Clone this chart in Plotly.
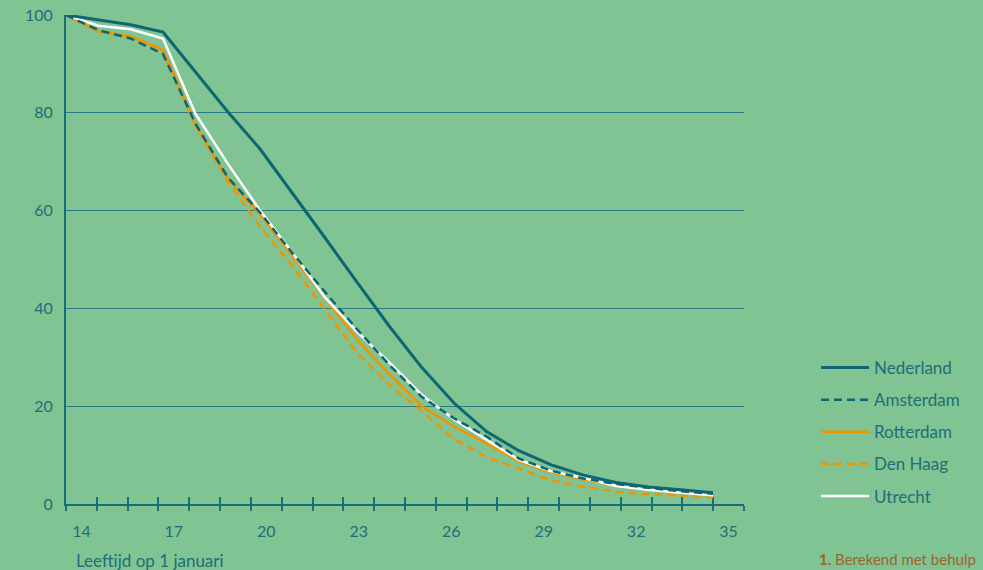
import plotly.graph_objects as go

# Data: percentage still living with parents, ages 14..34
ages = list(range(14, 35))
nederland = [100, 99.0, 98.0, 96.5, 88.3, 80.2, 72.6, 63.6, 54.5, 45.3, 36.3, 27.9,
             20.6, 14.8, 10.9, 8.0, 5.9, 4.4, 3.5, 2.9, 2.3]
amsterdam = [100, 96.9, 95.2, 92.0, 77.8, 66.8, 59.6, 51.3, 43.4, 35.7, 28.4, 21.9,
             17.5, 13.8, 9.3, 6.8, 5.2, 4.1, 3.3, 2.6, 2.1]
rotterdam = [100, 96.6, 95.6, 92.8, 77.6, 66.5, 59.2, 50.8, 42.2, 33.6, 26.5, 20.0,
             15.8, 12.4, 8.7, 6.5, 5.0, 3.8, 3.0, 2.4, 1.9]
denhaag = [100, 96.8, 95.6, 93.0, 77.4, 66.0, 56.6, 48.7, 39.8, 30.9, 24.3, 19.0,
           13.3, 9.6, 7.2, 4.8, 3.5, 2.5, 2.0, 1.7, 1.4]
utrecht = [100, 97.8, 97.1, 95.2, 79.8, 69.6, 60.0, 51.4, 42.3, 35.2, 28.9, 22.3,
           17.3, 13.1, 9.0, 6.7, 5.3, 3.7, 2.9, 2.3, 1.8]

tick_ages = list(range(14, 37))
label_ages = [14, 17, 20, 23, 26, 29, 32, 35]
y_ticks = [0, 20, 40, 60, 80, 100]

TEAL = "#0E6674"
AXIS = "#1B6E78"
GRID = "#2A7B83"
ORANGE = "#F29400"
BG = "#80C494"
TEXT = "#1E6E78"
FONT = "Lato, 'Open Sans', sans-serif"

series = [
    ("Nederland", nederland, TEAL, "solid", 3),
    ("Amsterdam", amsterdam, TEAL, "8px,5px", 2.5),
    ("Rotterdam", rotterdam, ORANGE, "solid", 2.5),
    ("Den Haag", denhaag, ORANGE, "8px,5px", 2.5),
    ("Utrecht", utrecht, "#FFFFFF", "solid", 2.5),
]

fig = go.Figure()
# invisible helpers so that the tick axes are drawn
fig.add_trace(go.Scatter(x=[14, 36], y=[0, 0], xaxis="x", yaxis="y", mode="lines",
                         line=dict(width=0), hoverinfo="skip", showlegend=False))
fig.add_trace(go.Scatter(x=[14, 36], y=[0, 0], xaxis="x3", yaxis="y", mode="lines",
                         line=dict(width=0), hoverinfo="skip", showlegend=False))

order = [2, 3, 4, 1, 0]
for i in order:
    name, vals, col, dash, w = series[i]
    fig.add_trace(go.Scatter(
        x=ages, y=vals, name=name, mode="lines", xaxis="x2", yaxis="y",
        line=dict(color=col, dash=dash, width=w),
        legendgroup=name, legendrank=i + 1,
    ))

fig.update_layout(
    width=983, height=570,
    margin=dict(l=66, r=239, t=15, b=66, autoexpand=False),
    paper_bgcolor=BG, plot_bgcolor="rgba(0,0,0,0)",
    font=dict(family=FONT, color=TEXT, size=15),
    showlegend=True,
    legend=dict(
        x=(816 - 66) / 678, xanchor="left", y=(504 - 350) / 489, yanchor="top",
        bgcolor="rgba(0,0,0,0)", font=dict(size=17, color=TEXT, family=FONT),
        tracegroupgap=7, itemwidth=48, traceorder="grouped",
    ),
    xaxis=dict(
        domain=[0, 1], range=[14, 36], anchor="y", automargin=False,
        tickvals=[a + 0.5 for a in label_ages], ticktext=[str(a) for a in label_ages],
        ticks="", showgrid=False, zeroline=False,
        showline=True, linecolor=AXIS, linewidth=2,
        ticklabelstandoff=12,
        minor=dict(tickvals=tick_ages, ticks="outside", ticklen=5,
                   tickcolor=AXIS, tickwidth=1.5, showgrid=False),
        tickfont=dict(size=16, color=TEXT),
    ),
    xaxis3=dict(
        overlaying="x", range=[14, 36], anchor="y", automargin=False,
        tickvals=tick_ages, ticks="inside", ticklen=7, tickcolor=AXIS,
        tickwidth=1.5, showticklabels=False, showgrid=False, zeroline=False,
        showline=False,
    ),
    xaxis2=dict(
        domain=[0, (713 - 66) / 678], range=[14, 34], anchor="y",
        visible=False, showgrid=False, zeroline=False,
    ),
    yaxis=dict(
        range=[0, 100], tickvals=y_ticks, ticktext=[str(v) for v in y_ticks],
        showgrid=True, gridcolor=GRID, gridwidth=1.3, zeroline=False, automargin=False,
        showline=True, linecolor=AXIS, linewidth=2, ticks="",
        ticklabelstandoff=8, tickfont=dict(size=16, color=TEXT),
    ),
    annotations=[
        dict(text="Leeftijd op 1 januari", xref="paper", yref="paper",
             x=(74 - 66) / 678, y=(504 - 560) / 489, xanchor="left", yanchor="middle",
             showarrow=False, font=dict(size=17, color=TEXT, family=FONT)),
        dict(text="<b>1.</b> Berekend met behulp", xref="paper", yref="paper",
             x=(817 - 66) / 678, y=(504 - 559) / 489, xanchor="left", yanchor="middle",
             showarrow=False, font=dict(size=15, color="#A0622A", family=FONT)),
    ],
)

fig.write_html("out.html", config={"displayModeBar": False},
               post_script="document.body.style.margin='0';document.body.style.background='%s';" % BG)
